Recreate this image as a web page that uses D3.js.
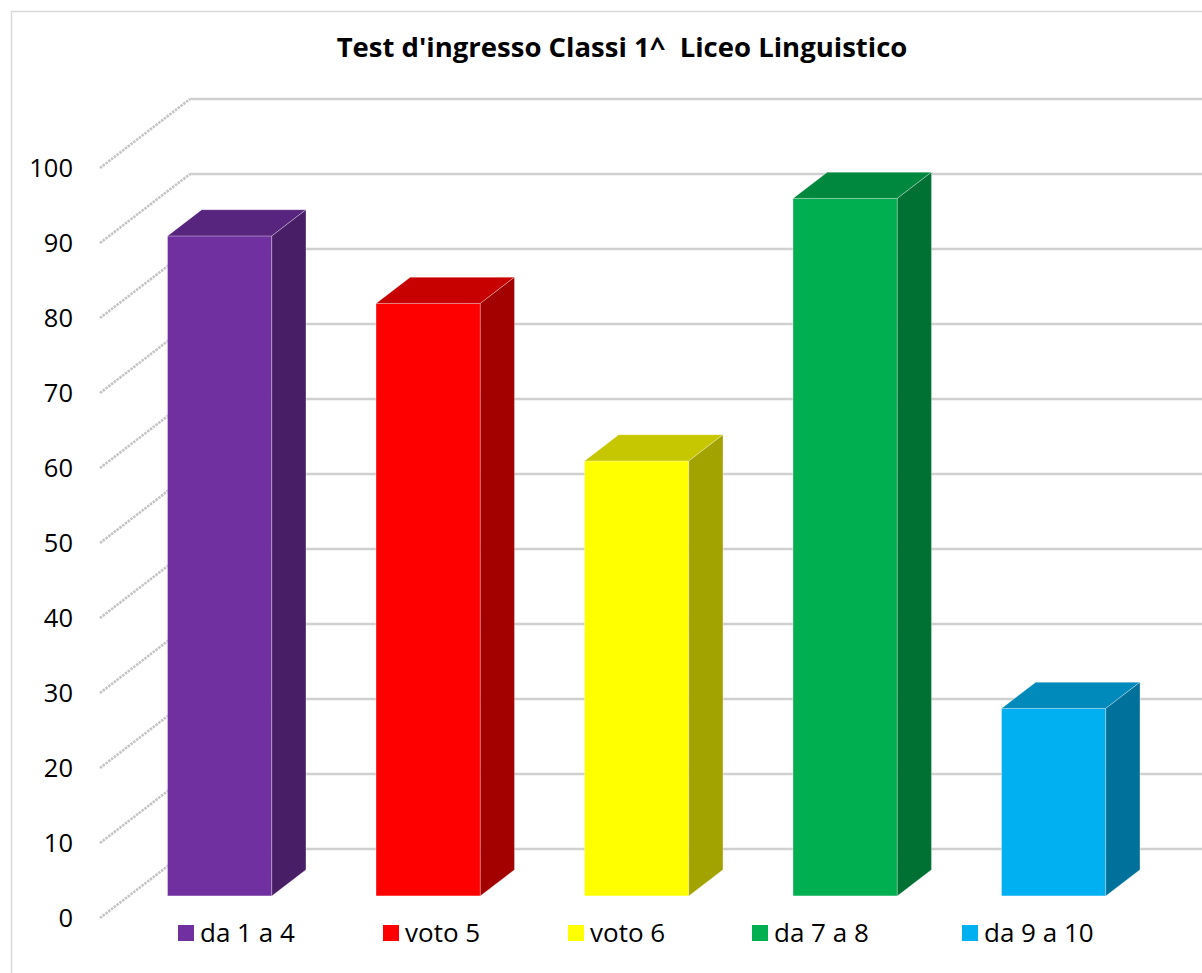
<!DOCTYPE html>
<html>
<head>
<meta charset="utf-8">
<script src="https://cdn.jsdelivr.net/npm/d3@7"></script>
<style>
  body { margin: 0; background: #fff; }
  svg { display: block; }
</style>
</head>
<body>
<div id="chart"></div>
<script>
// Data
const title = "Test d'ingresso Classi 1^  Liceo Linguistico";
const categories = ["da 1 a 4", "voto 5", "voto 6", "da 7 a 8", "da 9 a 10"];
const values = [88, 79, 58, 93, 25];
const colors = ["#7030a0", "#ff0000", "#ffff00", "#00b050", "#00b0f0"];
const yTicks = [0, 10, 20, 30, 40, 50, 60, 70, 80, 90, 100];

// Layout
const W = 1202, H = 973;
const depthX = 90, depthY = 69;      // oblique offset from front plane to back wall
const zFront = 0.32, zBack = 0.70;   // bar depth inside the box
const wallX = 100;                   // front edge of the left wall
const legendX = [178, 383, 568, 752, 962];
const font = "'Open Sans', 'Liberation Sans', sans-serif";

const svg = d3.select("#chart").append("svg")
    .attr("width", W)
    .attr("height", H);

// chart border
svg.append("rect")
    .attr("x", 11.5).attr("y", 11.5)
    .attr("width", W + 20).attr("height", H + 20)
    .attr("fill", "#fff")
    .attr("stroke", "#d9d9d9")
    .attr("stroke-width", 1.5);

// Scales (front plane)
const y = d3.scaleLinear().domain([0, 100]).range([918, 168]);
const x = d3.scaleBand()
    .domain(categories)
    .range([86.6, 1129.1])
    .paddingInner(0.5)
    .paddingOuter(0.25);

// project a point at depth z (0 = front, 1 = back)
const px = (xv, z) => xv + z * depthX;
const py = (yv, z) => yv - z * depthY;

// back wall gridlines
svg.append("g")
    .selectAll("line")
    .data(yTicks)
    .enter().append("line")
    .attr("x1", px(wallX, 1))
    .attr("x2", W + 10)
    .attr("y1", d => py(y(d), 1))
    .attr("y2", d => py(y(d), 1))
    .attr("stroke", "#d0d0d0")
    .attr("stroke-width", 2.4);

// side wall gridlines (diagonals)
svg.append("g")
    .selectAll("line")
    .data(yTicks)
    .enter().append("line")
    .attr("x1", px(wallX, 0))
    .attr("y1", d => py(y(d), 0))
    .attr("x2", px(wallX, 1))
    .attr("y2", d => py(y(d), 1))
    .attr("stroke", "#c4c4c4")
    .attr("stroke-width", 2.6)
    .attr("stroke-dasharray", "2.5,1");

// tick labels
svg.append("g")
    .selectAll("text")
    .data(yTicks)
    .enter().append("text")
    .attr("x", 73)
    .attr("y", d => y(d))
    .attr("dy", "0.36em")
    .attr("text-anchor", "end")
    .style("font-family", font)
    .style("font-size", "25.5px")
    .attr("fill", "#000")
    .text(d => d);

function shade(c, k) {
    const r = d3.rgb(c);
    return d3.rgb(r.r * k, r.g * k, r.b * k).formatHex();
}

// bars
const bars = svg.append("g")
    .selectAll("g")
    .data(categories.map((c, i) => ({cat: c, v: values[i], color: colors[i]})))
    .enter().append("g");

bars.each(function(d) {
    const g = d3.select(this);
    const x0 = x(d.cat), x1 = x(d.cat) + x.bandwidth();
    const yt = y(d.v), yb = y(0);
    const edge = "rgba(255,255,255,0.5)";

    g.append("rect")
        .attr("x", px(x0, zFront))
        .attr("y", py(yt, zFront))
        .attr("width", x1 - x0)
        .attr("height", yb - yt)
        .attr("fill", d.color)
        .attr("stroke", edge)
        .attr("stroke-width", 0.6);

    g.append("polygon")
        .attr("points", [
            [px(x0, zFront), py(yt, zFront)],
            [px(x0, zBack), py(yt, zBack)],
            [px(x1, zBack), py(yt, zBack)],
            [px(x1, zFront), py(yt, zFront)]
        ].map(p => p.join(",")).join(" "))
        .attr("fill", shade(d.color, 0.78))
        .attr("stroke", edge)
        .attr("stroke-width", 0.6);

    g.append("polygon")
        .attr("points", [
            [px(x1, zFront), py(yt, zFront)],
            [px(x1, zBack), py(yt, zBack)],
            [px(x1, zBack), py(yb, zBack)],
            [px(x1, zFront), py(yb, zFront)]
        ].map(p => p.join(",")).join(" "))
        .attr("fill", shade(d.color, 0.64))
        .attr("stroke", edge)
        .attr("stroke-width", 0.6);
});

// title
svg.append("text")
    .attr("x", 622)
    .attr("y", 57)
    .attr("text-anchor", "middle")
    .style("font-family", font)
    .style("font-weight", "bold")
    .style("font-size", "27.5px")
    .style("white-space", "pre")
    .attr("fill", "#000")
    .text(title);

// legend
const legend = svg.append("g")
    .selectAll("g")
    .data(categories)
    .enter().append("g")
    .attr("transform", (d, i) => `translate(${legendX[i]},925)`);

legend.append("rect")
    .attr("width", 16)
    .attr("height", 16)
    .attr("fill", (d, i) => colors[i]);

legend.append("text")
    .attr("x", 22)
    .attr("y", 8)
    .attr("dy", "0.36em")
    .style("font-family", font)
    .style("font-size", "26px")
    .attr("fill", "#000")
    .text(d => d);
</script>
</body>
</html>
